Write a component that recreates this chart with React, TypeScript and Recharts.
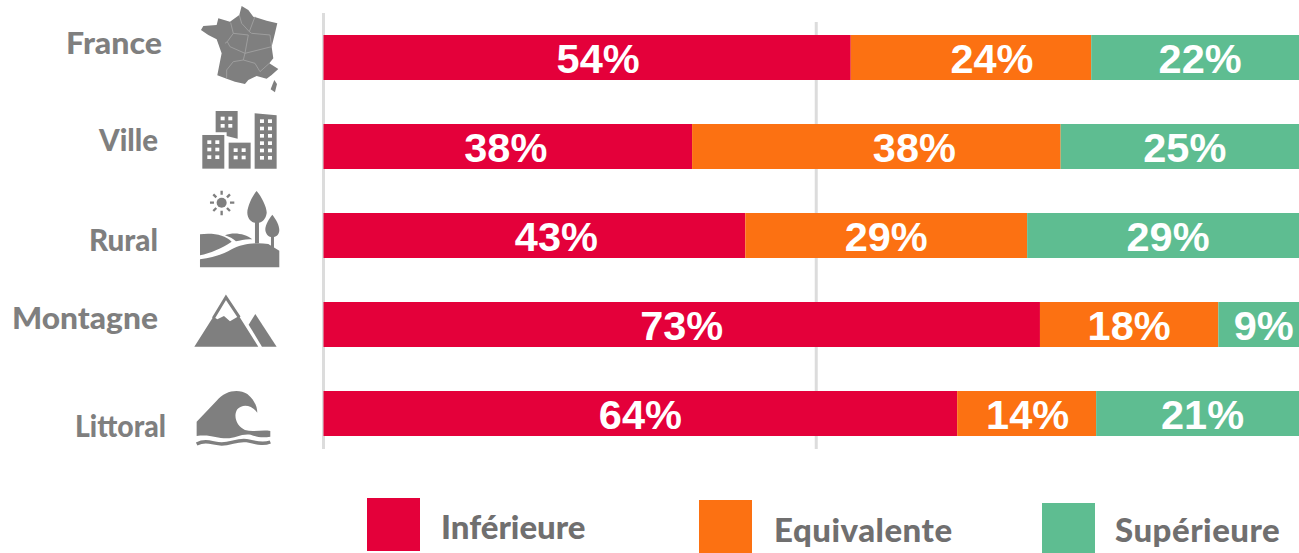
import { Bar, BarChart, CartesianGrid, LabelList, Legend, XAxis, YAxis } from "recharts";

const CATEGORIES = ["France", "Ville", "Rural", "Montagne", "Littoral"];
const SERIES_NAMES = ["Inférieure", "Equivalente", "Supérieure"];
const INFERIEURE = [53.5, 37.4, 42.8, 72.7, 64.3];
const EQUIVALENTE = [24.4, 37.4, 28.6, 18.1, 14.1];
const SUPERIEURE = [22.1, 25.2, 28.6, 9.2, 21.6];
const INFERIEURE_LABELS = ["54%", "38%", "43%", "73%", "64%"];
const EQUIVALENTE_LABELS = ["24%", "38%", "29%", "18%", "14%"];
const SUPERIEURE_LABELS = ["22%", "25%", "29%", "9%", "21%"];
const GRID_VALUES = [0, 50];

const RED = "#e4003a";
const ORANGE = "#fc7112";
const GREEN = "#5ebd91";
const GREY = "#7f7f7f";
const LEGEND_GREY = "#706f6f";
const LABEL_FONT = "Lato, sans-serif";

// the labels sit off the bar centres in the original
const RED_SHIFT = [11, -2, 22, 0, 0];
const ORANGE_SHIFT = [21, 38, 0, 0, 1];
const NAME_RIGHT = [162, 158, 158, 158, 166];
const NAME_WIDTH = [96, 59, 69, 146, 91];
const NAME_SHIFT = [-4, 4, 15, 4, 23];

const LEGEND_POS = [
  { box: 367, boxY: 498, text: 441, textY: 508, spacing: 0 },
  { box: 699, boxY: 500, text: 774, textY: 511, spacing: 0.5 },
  { box: 1042, boxY: 503, text: 1115, textY: 511, spacing: 0.5 },
];

function FranceIcon() {
  return (
    <g transform="scale(0.3333)" fill={GREY}>
      <path d="M725 18 L745 30 L760 50 L800 62 L832 70 L825 100 L815 140 L820 175 L808 190 L835 207 L815 225 L800 236 L770 228 L745 240 L735 252 L705 245 L680 236 L652 226 L665 160 L650 118 L625 105 L603 90 L610 78 L650 75 L655 55 L690 65 L718 45 Z" />
      <path d="M823 240 L831 252 L825 277 L812 268 Z" />
      <path
        d="M692 68 L700 100 L682 125 L675 130 M718 45 L725 70 L748 95 L765 50 M748 95 L755 100 L810 105 L815 140 M700 100 L745 105 L735 160 L690 140 L682 125 M735 160 L730 180 L700 185 L680 210 L680 236 M730 180 L765 190 L780 215 L808 190 M735 160 L815 140"
        fill="none"
        stroke="#a3a3a3"
        strokeWidth={2.5}
      />
    </g>
  );
}

function VilleIcon() {
  const win = (xs: number[], ys: number[]) =>
    xs.flatMap((x) => ys.map((y) => <rect key={`${x}-${y}`} x={x} y={y} width={12} height={11} fill="#fff" />));
  return (
    <g transform="scale(0.3333)" fill={GREY}>
      <path d="M647 333 H713 V416 L680 408 V397 H647 Z" />
      <rect x={607} y={405} width={66} height={101} />
      <rect x={686} y={428} width={66} height={78} />
      <path d="M764 340 L830 346 V506 H764 Z" />
      {win([662, 685], [350, 372])}
      {win([622, 646], [421, 443, 466])}
      {win([701, 725], [445, 467])}
      {win([780, 804], [358, 380, 402, 424, 446, 468])}
    </g>
  );
}

function RuralIcon() {
  return (
    <g transform="translate(0 180) scale(0.3333)" fill={GREY}>
      <circle cx={665} cy={68} r={15} />
      <path d="M665 32 V44 M665 92 V106 M630 68 H642 M690 68 H703 M640 43 L649 52 M690 43 L681 52 M640 93 L649 84 M690 93 L681 84" stroke={GREY} strokeWidth={7} fill="none" />
      <path d="M770 33 C785 50 802 85 800 100 C798 118 785 128 777 128 V190 H765 V128 C755 128 742 115 742 98 C742 80 758 45 770 33 Z" />
      <path d="M817 104 C828 118 838 135 838 150 C838 162 830 170 822 171 V210 H813 V171 C804 170 796 160 796 148 C796 135 808 115 817 104 Z" />
      <path d="M600 163 C640 158 675 165 695 185 C665 205 630 220 600 226 Z" />
      <path d="M675 166 C700 155 735 160 757 178 C740 176 722 180 708 184 C700 176 688 170 675 166 Z" />
      <path d="M600 238 C645 232 670 222 695 208 C725 190 770 186 805 192 L838 212 V262 H600 Z" />
    </g>
  );
}

function MontagneIcon() {
  return (
    <g transform="translate(0 180) scale(0.3333)" fill={GREY}>
      <path d="M583 500 L640 410 L652 418 L672 408 L690 424 L717 408 L775 500 Z" />
      <path d="M640 415 L678 352 L718 412" fill="none" stroke={GREY} strokeWidth={9} />
      <path d="M766 402 L830 500 H786 L746 434 Z" />
    </g>
  );
}

function LittoralIcon() {
  return (
    <g transform="translate(0 370) scale(0.3333)" fill={GREY}>
      <path d="M590 155 L650 92 C675 62 715 55 742 72 C762 88 772 110 772 128 C755 105 728 100 712 118 C698 140 712 170 735 180 C760 188 785 178 811 183 V200 C785 205 770 200 752 194 C725 190 705 205 680 205 C650 205 630 192 590 198 Z" />
      <path d="M590 222 C620 207 640 222 665 222 C695 222 710 208 740 212 C765 216 785 226 811 216" fill="none" stroke={GREY} strokeWidth={10} />
    </g>
  );
}

const ICONS = [FranceIcon, VilleIcon, RuralIcon, MontagneIcon, LittoralIcon];

function NameTick({ y, index, payload }: any) {
  const Icon = ICONS[index];
  return (
    <g>
      <text
        x={NAME_RIGHT[index]}
        y={y + NAME_SHIFT[index]}
        textAnchor="end"
        fill={GREY}
        fontFamily={LABEL_FONT}
        fontWeight={900}
        fontSize={31}
        textLength={NAME_WIDTH[index]}
        lengthAdjust="spacingAndGlyphs"
      >
        {payload.value}
      </text>
      <Icon />
    </g>
  );
}

function gridLine(props: any) {
  // the axis line at 0 runs a little higher than the 50% line
  const top = props.index === 0 ? props.y1 - 9 : props.y1;
  return <line key={props.index} x1={props.x1} x2={props.x2} y1={top} y2={props.y2} stroke="#dcdcdc" strokeWidth={3} />;
}

function barLabel(labels: string[], shifts?: number[]) {
  return (props: any) => {
    const { x, y, width, height, index } = props;
    return (
      <text
        x={x + width / 2 + (shifts ? shifts[index] : 0)}
        y={y + height / 2 + 15}
        textAnchor="middle"
        fill="#fff"
        fontFamily="'Liberation Sans', Arial, sans-serif"
        fontWeight={700}
        fontSize={41.5}
      >
        {labels[index]}
      </text>
    );
  };
}

function renderLegend({ payload }: any) {
  return (
    <div>
      {SERIES_NAMES.map((name, i) => {
        const entry = payload.find((p: any) => p.value === name);
        return (
          <div key={name}>
            <div style={{ position: "absolute", left: LEGEND_POS[i].box, top: LEGEND_POS[i].boxY, width: 53, height: 53, background: entry?.color }} />
            <div
              style={{
                position: "absolute",
                left: LEGEND_POS[i].text,
                top: LEGEND_POS[i].textY,
                color: LEGEND_GREY,
                fontFamily: LABEL_FONT,
                fontWeight: 900,
                fontSize: 33,
                letterSpacing: LEGEND_POS[i].spacing,
                lineHeight: "36px",
                whiteSpace: "nowrap",
              }}
            >
              {name}
            </div>
          </div>
        );
      })}
    </div>
  );
}

const rows = CATEGORIES.map((name, i) => ({
  name,
  inferieure: INFERIEURE[i],
  equivalente: EQUIVALENTE[i],
  superieure: SUPERIEURE[i],
}));

export default function App() {
  return (
    <div style={{ position: "fixed", left: 0, top: 0, width: 1299, height: 553, overflow: "hidden", background: "#fff" }}>
      <BarChart
        width={1320}
        height={553}
        data={rows}
        layout="vertical"
        barSize={45}
        barCategoryGap={44}
        margin={{ top: 22, right: 11, bottom: 104, left: 0 }}
      >
        <CartesianGrid horizontal={false} vertical={gridLine} verticalValues={GRID_VALUES} />
        <XAxis type="number" domain={[0, 100]} hide />
        <YAxis
          type="category"
          dataKey="name"
          width={323.5}
          axisLine={false}
          tickLine={false}
          interval={0}
          padding={{ top: -9, bottom: -9 }}
          tick={NameTick}
        />
        <Legend content={renderLegend} wrapperStyle={{ position: "absolute", left: 0, top: 0, bottom: "auto", width: 0, height: 0 }} />
        <Bar dataKey="inferieure" name="Inférieure" stackId="a" fill={RED} isAnimationActive={false}>
          <LabelList content={barLabel(INFERIEURE_LABELS, RED_SHIFT)} />
        </Bar>
        <Bar dataKey="equivalente" name="Equivalente" stackId="a" fill={ORANGE} isAnimationActive={false}>
          <LabelList content={barLabel(EQUIVALENTE_LABELS, ORANGE_SHIFT)} />
        </Bar>
        <Bar dataKey="superieure" name="Supérieure" stackId="a" fill={GREEN} isAnimationActive={false}>
          <LabelList content={barLabel(SUPERIEURE_LABELS)} />
        </Bar>
      </BarChart>
    </div>
  );
}
